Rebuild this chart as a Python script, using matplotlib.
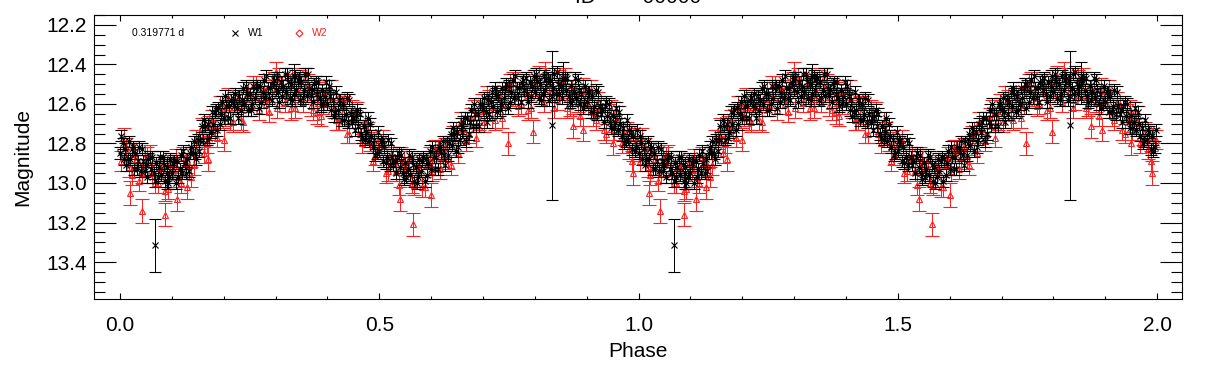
import numpy as np
import matplotlib
matplotlib.use("Agg")
import matplotlib.pyplot as plt
from matplotlib.ticker import MultipleLocator, FormatStrFormatter

plt.rcParams["font.family"] = ["Liberation Sans", "DejaVu Sans"]

PERIOD_TXT = "0.319771 d"

# W1 (black) - phases 0..1 (first pass)
w1_phase = [
    0.000, 0.005, 0.010, 0.015, 0.020, 0.025, 0.030, 0.035, 0.040, 0.045,
    0.050, 0.055, 0.060, 0.065, 0.070, 0.075, 0.080, 0.085, 0.090, 0.095,
    0.100, 0.105, 0.110, 0.115, 0.120, 0.125, 0.130, 0.135, 0.140, 0.145,
    0.150, 0.155, 0.160, 0.165, 0.170, 0.175, 0.180, 0.185, 0.190, 0.195,
    0.200, 0.205, 0.210, 0.215, 0.220, 0.225, 0.230, 0.235, 0.240, 0.245,
    0.250, 0.255, 0.260, 0.265, 0.270, 0.275, 0.280, 0.285, 0.290, 0.295,
    0.300, 0.305, 0.310, 0.315, 0.320, 0.325, 0.330, 0.335, 0.340, 0.345,
    0.350, 0.355, 0.360, 0.365, 0.370, 0.375, 0.380, 0.385, 0.390, 0.395,
    0.400, 0.405, 0.410, 0.415, 0.420, 0.425, 0.430, 0.435, 0.440, 0.445,
    0.450, 0.455, 0.460, 0.465, 0.470, 0.475, 0.480, 0.485, 0.490, 0.495,
    0.500, 0.505, 0.510, 0.515, 0.520, 0.525, 0.530, 0.535, 0.540, 0.545,
    0.550, 0.555, 0.560, 0.565, 0.570, 0.575, 0.580, 0.585, 0.590, 0.595,
    0.600, 0.605, 0.610, 0.615, 0.620, 0.625, 0.630, 0.635, 0.640, 0.645,
    0.650, 0.655, 0.660, 0.665, 0.670, 0.675, 0.680, 0.685, 0.690, 0.695,
    0.700, 0.705, 0.710, 0.715, 0.720, 0.725, 0.730, 0.735, 0.740, 0.745,
    0.750, 0.755, 0.760, 0.765, 0.770, 0.775, 0.780, 0.785, 0.790, 0.795,
    0.800, 0.805, 0.810, 0.815, 0.820, 0.825, 0.830, 0.835, 0.840, 0.845,
    0.850, 0.855, 0.860, 0.865, 0.870, 0.875, 0.880, 0.885, 0.890, 0.895,
    0.900, 0.905, 0.910, 0.915, 0.920, 0.925, 0.930, 0.935, 0.940, 0.945,
    0.950, 0.955, 0.960, 0.965, 0.970, 0.975, 0.980, 0.985, 0.990, 0.995,
]
w1_mag = [
    12.85, 12.80, 12.83, 12.88, 12.88, 12.82, 12.85, 12.89, 12.94, 12.89,
    12.91, 12.88, 12.93, 12.95, 12.90, 12.92, 12.96, 12.91, 12.92, 12.97,
    12.95, 12.89, 12.89, 12.93, 12.95, 12.90, 12.88, 12.85, 12.85, 12.85,
    12.78, 12.78, 12.78, 12.71, 12.70, 12.74, 12.70, 12.63, 12.62, 12.65,
    12.67, 12.61, 12.61, 12.58, 12.61, 12.62, 12.56, 12.58, 12.60, 12.55,
    12.55, 12.60, 12.57, 12.51, 12.51, 12.54, 12.57, 12.52, 12.52, 12.49,
    12.53, 12.54, 12.49, 12.51, 12.54, 12.49, 12.50, 12.55, 12.53, 12.47,
    12.49, 12.53, 12.56, 12.52, 12.53, 12.50, 12.55, 12.57, 12.53, 12.56,
    12.60, 12.56, 12.58, 12.64, 12.63, 12.58, 12.60, 12.65, 12.69, 12.65,
    12.67, 12.66, 12.71, 12.75, 12.71, 12.74, 12.79, 12.76, 12.78, 12.85,
    12.84, 12.79, 12.82, 12.87, 12.91, 12.87, 12.89, 12.87, 12.92, 12.95,
    12.90, 12.93, 12.96, 12.91, 12.92, 12.97, 12.94, 12.87, 12.88, 12.90,
    12.93, 12.87, 12.87, 12.82, 12.85, 12.86, 12.79, 12.80, 12.81, 12.75,
    12.74, 12.78, 12.74, 12.67, 12.67, 12.69, 12.71, 12.65, 12.65, 12.60,
    12.63, 12.64, 12.58, 12.59, 12.61, 12.55, 12.56, 12.60, 12.57, 12.50,
    12.51, 12.54, 12.57, 12.52, 12.52, 12.49, 12.53, 12.55, 12.49, 12.51,
    12.54, 12.49, 12.50, 12.55, 12.53, 12.47, 12.48, 12.52, 12.55, 12.50,
    12.51, 12.48, 12.53, 12.56, 12.51, 12.54, 12.57, 12.53, 12.55, 12.60,
    12.59, 12.54, 12.56, 12.61, 12.65, 12.61, 12.63, 12.61, 12.66, 12.69,
    12.66, 12.69, 12.73, 12.70, 12.72, 12.79, 12.78, 12.74, 12.76, 12.82,
]

# W1 second pass - the wider scatter of the band
w1b_phase = [
    0.0025, 0.0075, 0.0125, 0.0175, 0.0225, 0.0275, 0.0325, 0.0375, 0.0425, 0.0475,
    0.0525, 0.0575, 0.0625, 0.0675, 0.0725, 0.0775, 0.0825, 0.0875, 0.0925, 0.0975,
    0.1025, 0.1075, 0.1125, 0.1175, 0.1225, 0.1275, 0.1325, 0.1375, 0.1425, 0.1475,
    0.1525, 0.1575, 0.1625, 0.1675, 0.1725, 0.1775, 0.1825, 0.1875, 0.1925, 0.1975,
    0.2025, 0.2075, 0.2125, 0.2175, 0.2225, 0.2275, 0.2325, 0.2375, 0.2425, 0.2475,
    0.2525, 0.2575, 0.2625, 0.2675, 0.2725, 0.2775, 0.2825, 0.2875, 0.2925, 0.2975,
    0.3025, 0.3075, 0.3125, 0.3175, 0.3225, 0.3275, 0.3325, 0.3375, 0.3425, 0.3475,
    0.3525, 0.3575, 0.3625, 0.3675, 0.3725, 0.3775, 0.3825, 0.3875, 0.3925, 0.3975,
    0.4025, 0.4075, 0.4125, 0.4175, 0.4225, 0.4275, 0.4325, 0.4375, 0.4425, 0.4475,
    0.4525, 0.4575, 0.4625, 0.4675, 0.4725, 0.4775, 0.4825, 0.4875, 0.4925, 0.4975,
    0.5025, 0.5075, 0.5125, 0.5175, 0.5225, 0.5275, 0.5325, 0.5375, 0.5425, 0.5475,
    0.5525, 0.5575, 0.5625, 0.5675, 0.5725, 0.5775, 0.5825, 0.5875, 0.5925, 0.5975,
    0.6025, 0.6075, 0.6125, 0.6175, 0.6225, 0.6275, 0.6325, 0.6375, 0.6425, 0.6475,
    0.6525, 0.6575, 0.6625, 0.6675, 0.6725, 0.6775, 0.6825, 0.6875, 0.6925, 0.6975,
    0.7025, 0.7075, 0.7125, 0.7175, 0.7225, 0.7275, 0.7325, 0.7375, 0.7425, 0.7475,
    0.7525, 0.7575, 0.7625, 0.7675, 0.7725, 0.7775, 0.7825, 0.7875, 0.7925, 0.7975,
    0.8025, 0.8075, 0.8125, 0.8175, 0.8225, 0.8275, 0.8325, 0.8375, 0.8425, 0.8475,
    0.8525, 0.8575, 0.8625, 0.8675, 0.8725, 0.8775, 0.8825, 0.8875, 0.8925, 0.8975,
    0.9025, 0.9075, 0.9125, 0.9175, 0.9225, 0.9275, 0.9325, 0.9375, 0.9425, 0.9475,
    0.9525, 0.9575, 0.9625, 0.9675, 0.9725, 0.9775, 0.9825, 0.9875, 0.9925, 0.9975,
]
w1b_mag = [
    12.76, 12.88, 12.91, 12.79, 12.83, 12.93, 12.93, 12.82, 12.83, 12.94,
    12.97, 12.87, 12.87, 12.99, 12.97, 12.87, 12.87, 12.99, 13.00, 12.88,
    12.90, 13.00, 12.97, 12.86, 12.84, 12.95, 12.94, 12.82, 12.79, 12.88,
    12.84, 12.71, 12.68, 12.78, 12.77, 12.64, 12.64, 12.73, 12.70, 12.59,
    12.56, 12.67, 12.67, 12.57, 12.55, 12.67, 12.63, 12.52, 12.51, 12.63,
    12.63, 12.51, 12.52, 12.62, 12.59, 12.48, 12.46, 12.57, 12.58, 12.48,
    12.47, 12.59, 12.56, 12.45, 12.45, 12.57, 12.58, 12.46, 12.48, 12.58,
    12.57, 12.45, 12.45, 12.56, 12.59, 12.49, 12.49, 12.61, 12.60, 12.49,
    12.51, 12.63, 12.66, 12.54, 12.58, 12.68, 12.68, 12.57, 12.58, 12.69,
    12.73, 12.63, 12.65, 12.77, 12.78, 12.67, 12.70, 12.82, 12.86, 12.74,
    12.79, 12.89, 12.90, 12.78, 12.80, 12.91, 12.95, 12.85, 12.86, 12.98,
    12.97, 12.86, 12.87, 12.99, 13.00, 12.88, 12.89, 12.99, 12.96, 12.84,
    12.82, 12.93, 12.93, 12.82, 12.79, 12.91, 12.86, 12.75, 12.72, 12.84,
    12.82, 12.70, 12.69, 12.79, 12.75, 12.63, 12.60, 12.71, 12.71, 12.60,
    12.57, 12.69, 12.65, 12.54, 12.52, 12.64, 12.63, 12.52, 12.52, 12.62,
    12.59, 12.48, 12.46, 12.57, 12.59, 12.48, 12.47, 12.59, 12.56, 12.46,
    12.45, 12.57, 12.58, 12.46, 12.48, 12.58, 12.56, 12.45, 12.44, 12.55,
    12.57, 12.47, 12.47, 12.59, 12.58, 12.47, 12.48, 12.60, 12.62, 12.51,
    12.54, 12.64, 12.64, 12.53, 12.54, 12.65, 12.69, 12.59, 12.60, 12.72,
    12.72, 12.62, 12.64, 12.76, 12.80, 12.68, 12.73, 12.83, 12.84, 12.73,
]
w1_err = 0.03

# W1 points with large error bars
w1_out_phase = [0.0675, 0.8326, 0.090, 0.854, 0.335]
w1_out_mag = [13.316, 12.709, 12.95, 12.47, 12.46]
w1_out_err = [0.135, 0.375, 0.08, 0.08, 0.06]

# W2 (red) - two passes of one point per 0.01 step
w2_phase = [
    0.0025, 0.0125, 0.0225, 0.0325, 0.0425, 0.0525, 0.0625, 0.0725, 0.0825, 0.0925,
    0.1025, 0.1125, 0.1225, 0.1325, 0.1425, 0.1525, 0.1625, 0.1725, 0.1825, 0.1925,
    0.2025, 0.2125, 0.2225, 0.2325, 0.2425, 0.2525, 0.2625, 0.2725, 0.2825, 0.2925,
    0.3025, 0.3125, 0.3225, 0.3325, 0.3425, 0.3525, 0.3625, 0.3725, 0.3825, 0.3925,
    0.4025, 0.4125, 0.4225, 0.4325, 0.4425, 0.4525, 0.4625, 0.4725, 0.4825, 0.4925,
    0.5025, 0.5125, 0.5225, 0.5325, 0.5425, 0.5525, 0.5625, 0.5725, 0.5825, 0.5925,
    0.6025, 0.6125, 0.6225, 0.6325, 0.6425, 0.6525, 0.6625, 0.6725, 0.6825, 0.6925,
    0.7025, 0.7125, 0.7225, 0.7325, 0.7425, 0.7525, 0.7625, 0.7725, 0.7825, 0.7925,
    0.8025, 0.8125, 0.8225, 0.8325, 0.8425, 0.8525, 0.8625, 0.8725, 0.8825, 0.8925,
    0.9025, 0.9125, 0.9225, 0.9325, 0.9425, 0.9525, 0.9625, 0.9725, 0.9825, 0.9925,
]
w2_mag = [
    12.89, 12.82, 12.96, 12.88, 12.95, 12.87, 12.95, 13.00, 12.91, 13.03,
    12.93, 12.97, 12.87, 12.91, 12.91, 12.78, 12.85, 12.71, 12.73, 12.61,
    12.66, 12.68, 12.58, 12.68, 12.57, 12.61, 12.51, 12.57, 12.60, 12.50,
    12.62, 12.51, 12.56, 12.47, 12.54, 12.59, 12.50, 12.63, 12.54, 12.60,
    12.53, 12.62, 12.68, 12.61, 12.75, 12.67, 12.75, 12.69, 12.79, 12.86,
    12.80, 12.95, 12.87, 12.94, 12.87, 12.95, 13.00, 12.91, 13.02, 12.91,
    12.94, 12.83, 12.87, 12.88, 12.76, 12.85, 12.72, 12.75, 12.63, 12.68,
    12.69, 12.58, 12.68, 12.57, 12.60, 12.50, 12.56, 12.60, 12.50, 12.62,
    12.51, 12.56, 12.47, 12.54, 12.58, 12.49, 12.62, 12.53, 12.59, 12.52,
    12.60, 12.66, 12.59, 12.73, 12.65, 12.73, 12.66, 12.76, 12.83, 12.77,
]
w2b_phase = [
    0.0075, 0.0175, 0.0275, 0.0375, 0.0475, 0.0575, 0.0675, 0.0775, 0.0875, 0.0975,
    0.1075, 0.1175, 0.1275, 0.1375, 0.1475, 0.1575, 0.1675, 0.1775, 0.1875, 0.1975,
    0.2075, 0.2175, 0.2275, 0.2375, 0.2475, 0.2575, 0.2675, 0.2775, 0.2875, 0.2975,
    0.3075, 0.3175, 0.3275, 0.3375, 0.3475, 0.3575, 0.3675, 0.3775, 0.3875, 0.3975,
    0.4075, 0.4175, 0.4275, 0.4375, 0.4475, 0.4575, 0.4675, 0.4775, 0.4875, 0.4975,
    0.5075, 0.5175, 0.5275, 0.5375, 0.5475, 0.5575, 0.5675, 0.5775, 0.5875, 0.5975,
    0.6075, 0.6175, 0.6275, 0.6375, 0.6475, 0.6575, 0.6675, 0.6775, 0.6875, 0.6975,
    0.7075, 0.7175, 0.7275, 0.7375, 0.7475, 0.7575, 0.7675, 0.7775, 0.7875, 0.7975,
    0.8075, 0.8175, 0.8275, 0.8375, 0.8475, 0.8575, 0.8675, 0.8775, 0.8875, 0.8975,
    0.9075, 0.9175, 0.9275, 0.9375, 0.9475, 0.9575, 0.9675, 0.9775, 0.9875, 0.9975,
]
w2b_mag = [
    12.77, 12.92, 12.85, 12.99, 12.87, 12.86, 13.00, 12.92, 13.04, 12.90,
    12.88, 13.00, 12.90, 12.97, 12.78, 12.72, 12.80, 12.68, 12.77, 12.61,
    12.57, 12.69, 12.58, 12.69, 12.54, 12.51, 12.63, 12.53, 12.64, 12.49,
    12.47, 12.59, 12.50, 12.62, 12.48, 12.47, 12.61, 12.53, 12.66, 12.53,
    12.53, 12.68, 12.61, 12.75, 12.63, 12.64, 12.80, 12.74, 12.89, 12.78,
    12.78, 12.94, 12.87, 13.01, 12.89, 12.88, 13.01, 12.92, 13.02, 12.87,
    12.83, 12.93, 12.82, 12.91, 12.74, 12.69, 12.79, 12.67, 12.77, 12.60,
    12.56, 12.67, 12.56, 12.67, 12.52, 12.49, 12.61, 12.51, 12.63, 12.48,
    12.46, 12.59, 12.50, 12.62, 12.48, 12.47, 12.61, 12.53, 12.66, 12.53,
    12.53, 12.68, 12.61, 12.75, 12.63, 12.64, 12.80, 12.74, 12.89, 12.78,
]
w2_err = 0.05

# faint / bright W2 stragglers
w2_out_phase = [0.020, 0.042, 0.087, 0.110, 0.130, 0.170, 0.200, 0.300, 0.330,
                0.380, 0.420, 0.540, 0.565, 0.600, 0.748, 0.797, 0.820, 0.873,
                0.893, 0.950, 0.990]
w2_out_mag = [13.05, 13.14, 13.16, 13.08, 13.02, 12.88, 12.78, 12.44, 12.62,
              12.64, 12.68, 13.08, 13.21, 13.06, 12.80, 12.74, 12.44, 12.71,
              12.73, 12.80, 12.95]
w2_out_err = [0.06, 0.06, 0.06, 0.06, 0.06, 0.06, 0.06, 0.05, 0.06,
              0.06, 0.05, 0.06, 0.06, 0.06, 0.06, 0.06, 0.05, 0.06,
              0.06, 0.06, 0.06]


def two_cycles(ph, mg, er):
    ph = np.asarray(ph, float)
    mg = np.asarray(mg, float)
    er = np.broadcast_to(np.asarray(er, float), ph.shape)
    return (np.concatenate([ph, ph + 1.0]), np.concatenate([mg, mg]),
            np.concatenate([er, er]))


def crisp(cont):
    # IDL-like hard 1 px strokes
    _, caps, bars = cont.lines
    for c in caps:
        c.set_antialiased(False)
    for b in bars:
        b.set_antialiased(False)


LW = 0.72  # one pixel at 100 dpi

fig = plt.figure(figsize=(12.08, 3.66), dpi=100)
ax = fig.add_axes([94 / 1208, 1 - 299 / 366, 1088 / 1208, 284 / 366])

red = "#ff2020"
for ph, mg, er in (two_cycles(w2_phase, w2_mag, w2_err),
                   two_cycles(w2b_phase, w2b_mag, w2_err),
                   two_cycles(w2_out_phase, w2_out_mag, w2_out_err)):
    crisp(ax.errorbar(ph, mg, yerr=er, fmt="^", color=red, mfc="none", ms=4,
                      mew=0.8, elinewidth=LW, capsize=5, capthick=LW,
                      zorder=2))

for ph, mg, er in (two_cycles(w1_phase, w1_mag, w1_err),
                   two_cycles(w1b_phase, w1b_mag, w1_err),
                   two_cycles(w1_out_phase, w1_out_mag, w1_out_err)):
    crisp(ax.errorbar(ph, mg, yerr=er, fmt="x", color="black", ms=4.5,
                      mew=0.8, elinewidth=LW, capsize=4.3, capthick=LW,
                      zorder=3))

ax.set_xlim(-0.05, 2.048)
ax.set_ylim(13.587, 12.15)

ax.xaxis.set_major_locator(MultipleLocator(0.5))
ax.xaxis.set_minor_locator(MultipleLocator(0.1))
ax.yaxis.set_major_locator(MultipleLocator(0.2))
ax.yaxis.set_minor_locator(MultipleLocator(0.05))
ax.xaxis.set_major_formatter(FormatStrFormatter("%.1f"))
ax.yaxis.set_major_formatter(FormatStrFormatter("%.1f"))

ax.tick_params(axis="both", which="both", direction="in", top=True,
               right=True, width=0.8, labelsize=15)
ax.tick_params(axis="y", which="major", length=15.8, pad=5)
ax.tick_params(axis="y", which="minor", length=7.9)
ax.tick_params(axis="x", which="major", length=4.3, pad=12)
ax.tick_params(axis="x", which="minor", length=2.2)
for sp in ax.spines.values():
    sp.set_linewidth(0.8)

ax.set_xlabel("Phase", fontsize=15, labelpad=5)
ax.set_ylabel("Magnitude", fontsize=15, labelpad=10)

# legend-like annotations in the upper left
ax.text(0.0349, 0.9366, PERIOD_TXT, transform=ax.transAxes, fontsize=7.5,
        va="center", ha="left")
ax.plot([0.1296], [0.9366], "x", color="black", ms=5, mew=0.8,
        transform=ax.transAxes)
ax.text(0.1415, 0.9366, "W1", transform=ax.transAxes, fontsize=7.5,
        va="center", ha="left")
ax.plot([0.1884], [0.9366], "D", color=red, mfc="none", ms=3.5, mew=0.8,
        transform=ax.transAxes)
ax.text(0.2004, 0.9366, "W2", transform=ax.transAxes, fontsize=7.5,
        va="center", ha="left", color=red)

# title, clipped by the top of the figure as in the original
fig.text(0.528, 1 - 3 / 366, "ID   =   00000", fontsize=15, ha="center",
         va="baseline")

fig.savefig("out.png", dpi=100, facecolor="white")
